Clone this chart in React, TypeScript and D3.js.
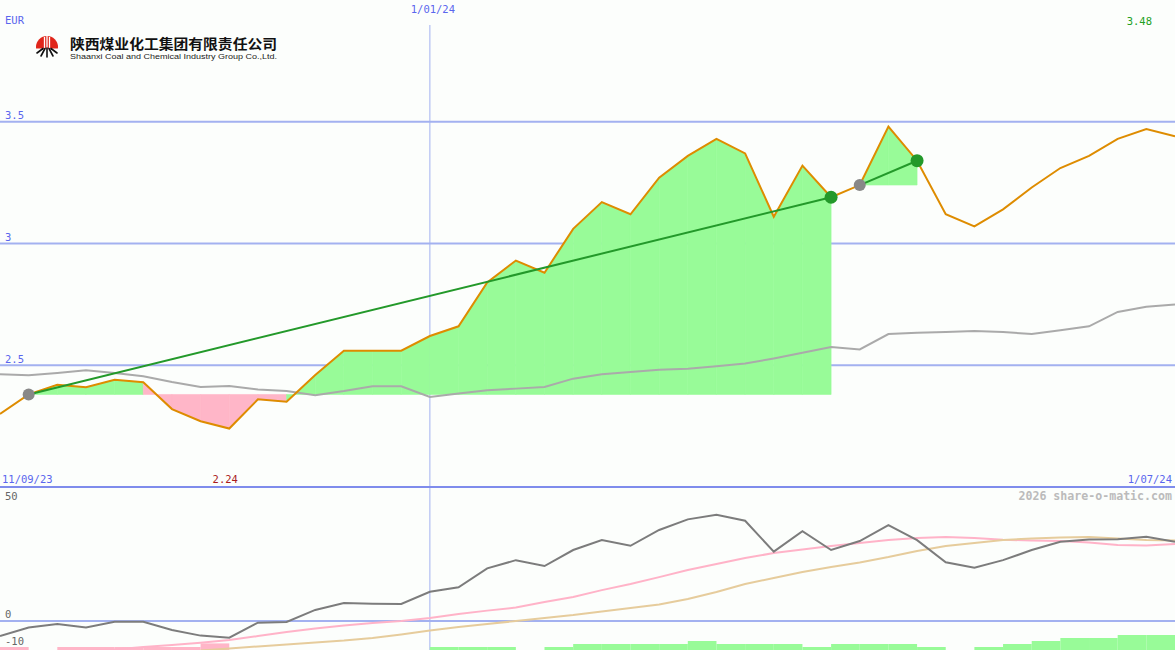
import React from 'react';
import * as d3 from 'd3';

// ---------- data ----------
const dates = [
  '2023-09-18','2023-09-25','2023-10-02','2023-10-09','2023-10-16','2023-10-23','2023-10-30',
  '2023-11-06','2023-11-13','2023-11-20','2023-11-27','2023-12-04','2023-12-11','2023-12-18',
  '2023-12-25','2024-01-01','2024-01-08','2024-01-15','2024-01-22','2024-01-29','2024-02-05',
  '2024-02-12','2024-02-19','2024-02-26','2024-03-04','2024-03-11','2024-03-18','2024-03-25',
  '2024-04-01','2024-04-08','2024-04-15','2024-04-22','2024-04-29','2024-05-06','2024-05-13',
  '2024-05-20','2024-05-27','2024-06-03','2024-06-10','2024-06-17','2024-06-24','2024-07-01',
];

const price = [
  2.30, 2.38, 2.42, 2.41, 2.44, 2.43, 2.32, 2.27, 2.24, 2.36, 2.35, 2.46, 2.56, 2.56,
  2.56, 2.62, 2.66, 2.84, 2.93, 2.88, 3.06, 3.17, 3.12, 3.27, 3.36, 3.43, 3.37, 3.11,
  3.32, 3.19, 3.24, 3.48, 3.34, 3.12, 3.07, 3.14, 3.23, 3.31, 3.36, 3.43, 3.47, 3.44,
];

const priceAverage = [
  2.463, 2.459, 2.468, 2.479, 2.468, 2.455, 2.431, 2.411, 2.415, 2.400, 2.394, 2.377, 2.394, 2.414,
  2.414, 2.370, 2.384, 2.397, 2.404, 2.411, 2.445, 2.463, 2.472, 2.482, 2.486, 2.496, 2.507, 2.528,
  2.551, 2.575, 2.565, 2.628, 2.633, 2.637, 2.641, 2.637, 2.628, 2.644, 2.660, 2.719, 2.740, 2.750,
];

const momentum = [
  -6.4, -2.8, -1.3, -2.8, -0.3, -0.3, -3.8, -6.2, -7.1, -0.7, -0.4, 4.7, 7.6, 7.3,
  7.2, 12.4, 14.3, 22.3, 25.8, 23.3, 30.1, 34.3, 31.9, 38.6, 43.1, 45.0, 42.5, 29.4,
  38.1, 30.1, 33.9, 40.7, 34.3, 24.9, 22.6, 25.8, 30.1, 33.6, 34.6, 34.7, 35.7, 33.6,
];

const momentumFast: (number | null)[] = [
  null, null, null, -12.6, -12.1, -11.0, -10.2, -9.2, -8.1, -6.4, -4.7, -3.2, -1.9, -0.8,
  0.0, 1.3, 3.0, 4.4, 5.7, 8.1, 10.2, 13.1, 15.7, 18.6, 21.6, 24.2, 26.7, 28.8,
  30.3, 31.8, 33.1, 34.3, 35.2, 35.6, 35.2, 34.5, 34.1, 33.9, 33.3, 32.2, 32.0, 32.6,
];

const momentumSlow: (number | null)[] = [
  null, null, null, null, null, null, null, -12.5, -11.7, -10.8, -10.0, -9.1, -8.3, -7.2,
  -5.7, -4.0, -2.5, -1.3, 0.0, 1.3, 2.5, 4.0, 5.5, 7.0, 9.3, 12.3, 15.7, 18.2,
  20.8, 22.9, 24.8, 27.1, 29.7, 31.8, 33.1, 34.3, 35.0, 35.4, 35.6, 35.0, 34.3, 34.1,
];

const histogram = [
  -1, 0, -1, -1, -1, -1, -1, -2.2, 0, 0, 0, 0, 0, 0,
  0, 1, 1, 1, 0, 1, 2, 2, 2, 2, 3, 2, 2, 2,
  1, 2, 2, 2, 1, 0, 1, 2, 3, 4, 4, 5, 5,
];

const trends: [number, number][] = [[1, 29], [30, 32]];

const mainTicks = [2.5, 3, 3.5];
const mainTickLabels = ['2.5', '3', '3.5'];
const lowerTicks = [50, 0, -10];
const lowerTickLabels = ['50', '0', '-10'];
const startLabel = '11/09/23';
const midLabel = '1/01/24';
const midDate = '2024-01-01';
const endLabel = '1/07/24';
const currency = 'EUR';
const maxLabel = '3.48';
const minLabel = '2.24';
const credit = '2026 share-o-matic.com';
const companyCN = '陕西煤业化工集团有限责任公司';
const companyEN = 'Shaanxi Coal and Chemical  Industry Group Co.,Ltd.';

// ---------- style ----------
const W = 1175;
const H = 650;
const MAIN_BOTTOM = 487;
const LOWER_TOP = 488;
const BG = '#fcfefc';
const GRID = '#a3b1f0';
const AXIS = '#7f8cec';
const LABEL = '#5a66ee';
const GREEN_FILL = '#98fb98';
const PINK_FILL = '#ffb6c8';
const ORANGE = '#de8c00';
const TREND = '#23992a';
const MONO = '"DejaVu Sans Mono", "Liberation Mono", monospace';

export default function App() {
  const D = dates.map((s) => new Date(s + 'T00:00:00Z'));
  const x = d3.scaleUtc().domain([D[0], D[D.length - 1]]).range([0, W]);
  const y = d3.scaleLinear().domain([2, 4]).range([MAIN_BOTTOM, 0]);
  const yL = d3.scaleLinear().domain([-12.3, 56.4]).range([H, LOWER_TOP]);
  const hScale = d3.scaleLinear().domain([0, 5]).range([0, 15]);

  const xi = (i: number) => x(D[i]);

  const mainLine = d3.line<number>().x((_, i) => xi(i)).y((d) => y(d));
  const lowerLine = d3
    .line<number | null>()
    .defined((d) => d != null)
    .x((_, i) => xi(i))
    .y((d) => yL(d as number));

  const fills: { pts: string; color: string }[] = [];
  trends.forEach(([a, b]) => {
    const base = price[a];
    for (let i = a; i < b; i++) {
      const pts = [
        [xi(i), y(base)],
        [xi(i), y(price[i])],
        [xi(i + 1), y(price[i + 1])],
        [xi(i + 1), y(base)],
      ]
        .map((p) => p.join(','))
        .join(' ');
      fills.push({ pts, color: price[i + 1] >= base ? GREEN_FILL : PINK_FILL });
    }
  });

  const xMid = x(new Date(midDate + 'T00:00:00Z'));
  const minIdx = price.indexOf(d3.min(price) as number);

  return (
    <svg
      width={W}
      height={H}
      style={{ position: 'fixed', left: 0, top: 0, display: 'block' }}
      xmlns="http://www.w3.org/2000/svg"
    >
      <defs>
        <clipPath id="mainClip">
          <rect x={0} y={0} width={W} height={MAIN_BOTTOM} />
        </clipPath>
        <clipPath id="lowerClip">
          <rect x={0} y={LOWER_TOP} width={W} height={H - LOWER_TOP} />
        </clipPath>
        <clipPath id="logoTop">
          <rect x={30} y={30} width={40} height={18.5} />
        </clipPath>
      </defs>
      <rect x={0} y={0} width={W} height={H} fill={BG} />

      {/* grid */}
      {mainTicks.map((t) => (
        <line key={'g' + t} x1={0} x2={W} y1={y(t)} y2={y(t)} stroke={GRID} strokeWidth={2} />
      ))}
      <line x1={xMid} x2={xMid} y1={25} y2={H} stroke={GRID} strokeWidth={1} />
      <line x1={0} x2={W} y1={yL(0)} y2={yL(0)} stroke={GRID} strokeWidth={2} />
      <line x1={0} x2={W} y1={MAIN_BOTTOM} y2={MAIN_BOTTOM} stroke={AXIS} strokeWidth={2} />

      {/* main panel */}
      <g clipPath="url(#mainClip)">
        {fills.map((f, k) => (
          <polygon key={k} points={f.pts} fill={f.color} stroke={f.color} strokeWidth={0.6} />
        ))}
        <path d={mainLine(priceAverage) || ''} fill="none" stroke="#aaaaaa" strokeWidth={2} />
        <path d={mainLine(price) || ''} fill="none" stroke={ORANGE} strokeWidth={2} />
        {trends.map(([a, b]) => (
          <line
            key={'t' + a}
            x1={xi(a)}
            y1={y(price[a])}
            x2={xi(b)}
            y2={y(price[b])}
            stroke={TREND}
            strokeWidth={2}
          />
        ))}
        {trends.map(([a, b]) => (
          <g key={'c' + a}>
            <circle cx={xi(a)} cy={y(price[a])} r={6} fill="#888888" />
            <circle cx={xi(b)} cy={y(price[b])} r={6.5} fill={TREND} />
          </g>
        ))}
      </g>

      {/* lower panel */}
      <g clipPath="url(#lowerClip)">
        {histogram.map((v, i) =>
          v === 0 ? null : (
            <rect
              key={'h' + i}
              x={xi(i)}
              width={xi(i + 1) - xi(i)}
              y={H - hScale(Math.abs(v))}
              height={hScale(Math.abs(v))}
              fill={v > 0 ? GREEN_FILL : PINK_FILL}
            />
          )
        )}
        <path d={lowerLine(momentumFast) || ''} fill="none" stroke="#ffb3c8" strokeWidth={2} />
        <path d={lowerLine(momentumSlow) || ''} fill="none" stroke="#e6cc9c" strokeWidth={2} />
        <path d={lowerLine(momentum) || ''} fill="none" stroke="#7c7c7c" strokeWidth={2} />
      </g>

      {/* labels */}
      <g fontFamily={MONO} fontSize={10.5}>
        <text x={5} y={24} fill={LABEL}>{currency}</text>
        <text x={xMid + 3} y={13} fill={LABEL} textAnchor="middle">{midLabel}</text>
        <text x={1152} y={25} fill="#22a022" textAnchor="end">{maxLabel}</text>
        {mainTicks.map((t, k) => (
          <text key={'ml' + t} x={5} y={y(t) - 2.5} fill={LABEL}>{mainTickLabels[k]}</text>
        ))}
        <text x={2} y={483} fill={LABEL}>{startLabel}</text>
        <text x={xi(minIdx) - 4} y={483} fill="#aa1c1c" textAnchor="middle">{minLabel}</text>
        <text x={1172} y={483} fill={LABEL} textAnchor="end">{endLabel}</text>
        {lowerTicks.map((t, k) => (
          <text key={'ll' + t} x={5} y={t < 0 ? 645 : yL(t) - 3} fill="#666666">{lowerTickLabels[k]}</text>
        ))}
        <text x={1172} y={500} fill="#bbbbbb" fontWeight="bold" fontSize={11.6} textAnchor="end">{credit}</text>
      </g>

      {/* logo */}
      <g>
        <circle cx={47} cy={47} r={11} fill="#e0261a" clipPath="url(#logoTop)" />
        <g stroke="#ffffff" strokeWidth={1.3}>
          <line x1={44.5} y1={37} x2={44.5} y2={48.5} />
          <line x1={47} y1={36} x2={47} y2={48.5} />
          <line x1={49.5} y1={37} x2={49.5} y2={48.5} />
        </g>
        <g stroke="#111111" strokeWidth={1.6} strokeLinecap="round">
          <line x1={47} y1={48} x2={47} y2={57} />
          <line x1={45} y1={48.5} x2={41} y2={56} />
          <line x1={49} y1={48.5} x2={53} y2={56} />
          <line x1={43} y1={48.5} x2={37} y2={53} />
          <line x1={51} y1={48.5} x2={57} y2={53} />
        </g>
        <text
          x={70}
          y={48.5}
          fontFamily='"Noto Sans CJK SC", sans-serif'
          fontWeight="bold"
          fontSize={13.5}
          fill="#111111"
          textLength={207}
          lengthAdjust="spacingAndGlyphs"
        >
          {companyCN}
        </text>
        <text
          x={70}
          y={58.5}
          fontFamily='Arial, "Liberation Sans", sans-serif'
          fontSize={7.8}
          fill="#222222"
          textLength={207}
          lengthAdjust="spacingAndGlyphs"
        >
          {companyEN}
        </text>
      </g>
    </svg>
  );
}
